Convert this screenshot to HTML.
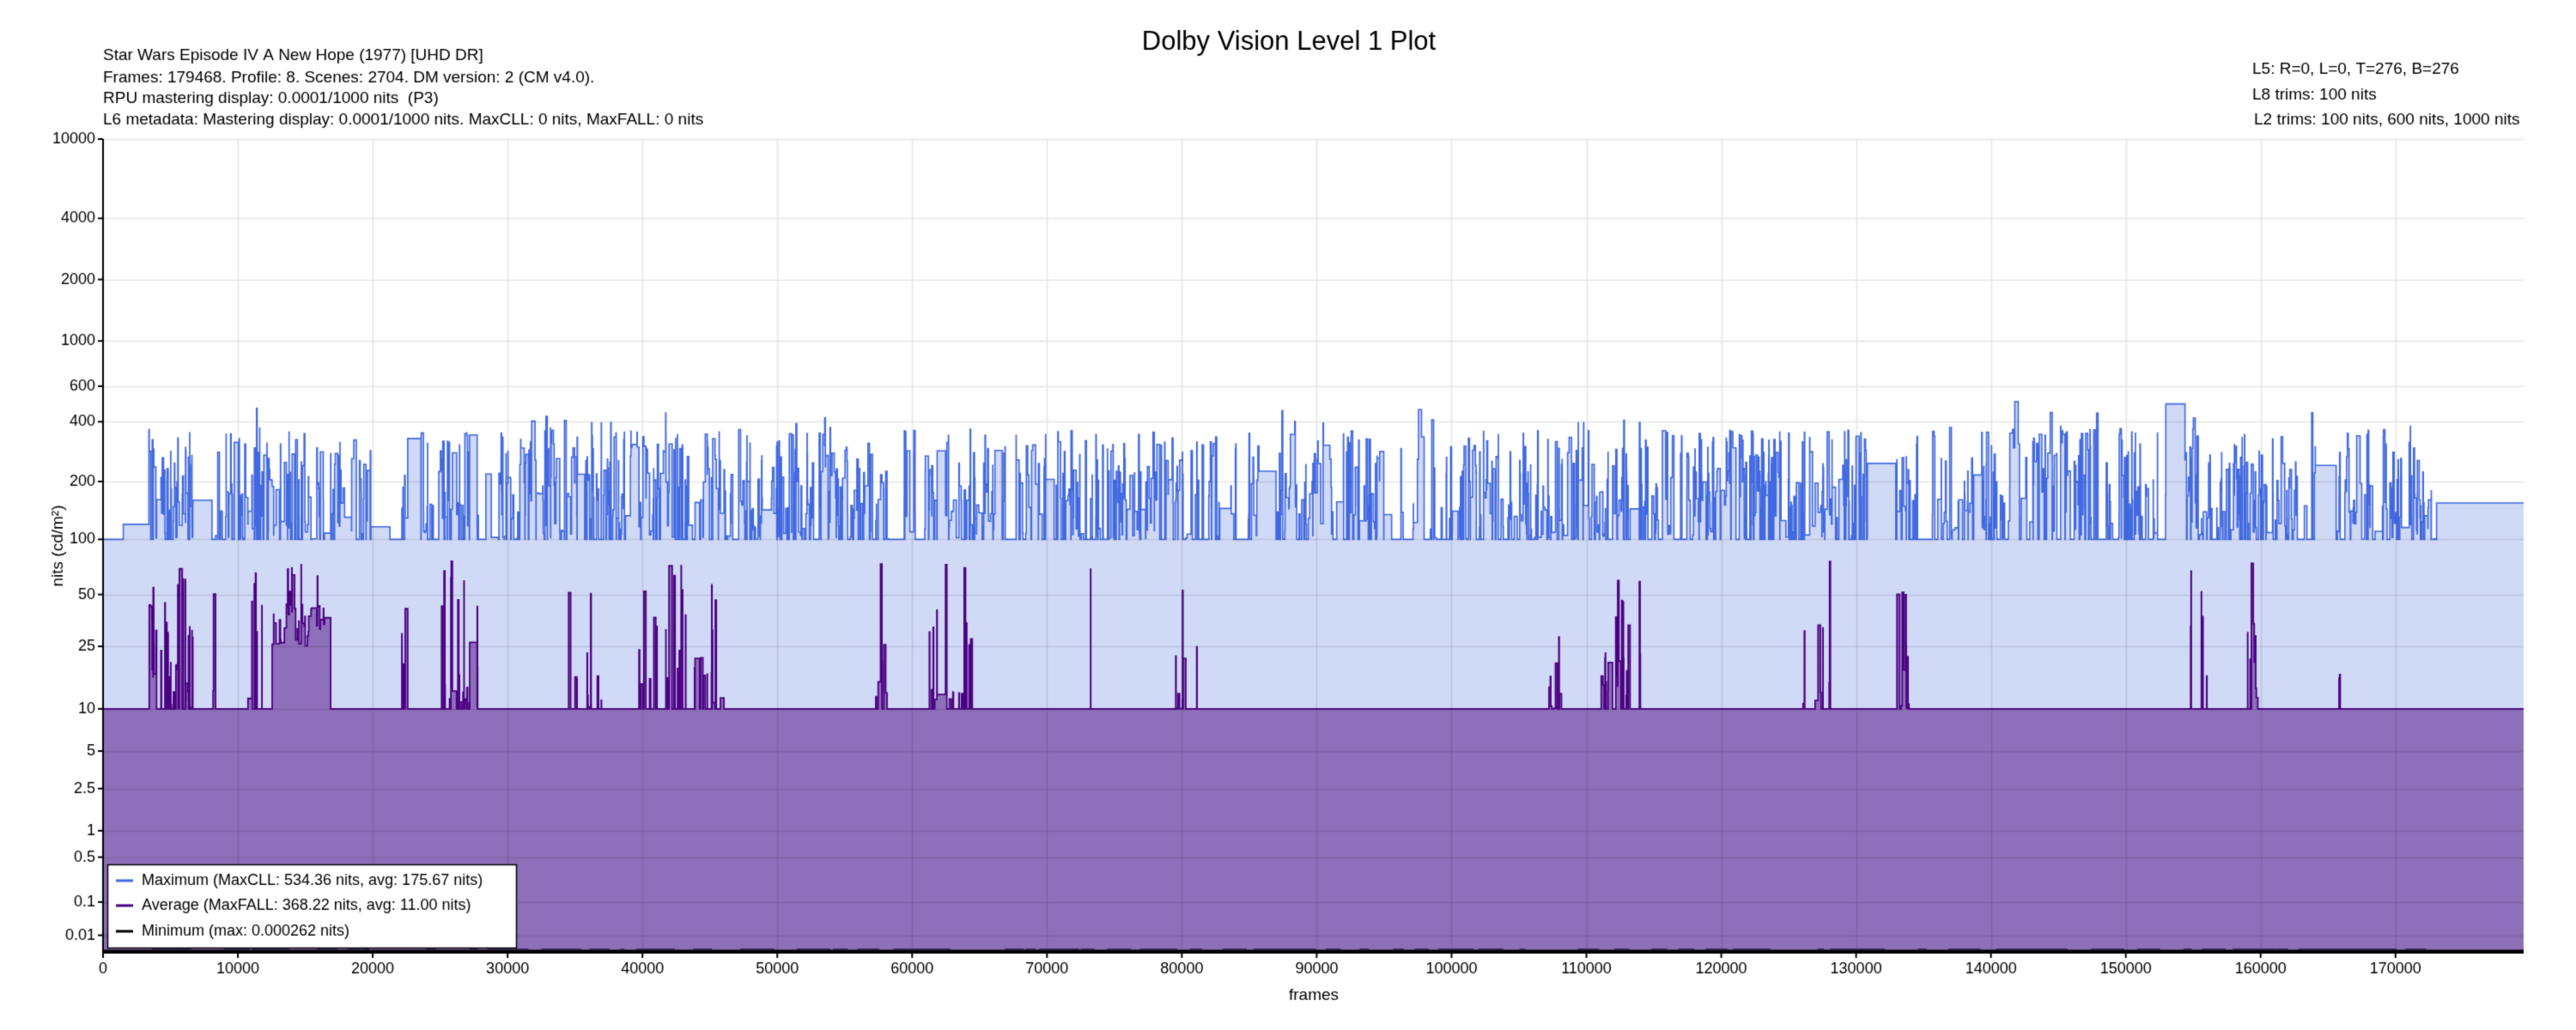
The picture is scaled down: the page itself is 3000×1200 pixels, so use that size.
<!DOCTYPE html>
<html><head><meta charset="utf-8"><style>
html,body{margin:0;padding:0;background:#fff;width:3000px;height:1200px;overflow:hidden}
canvas{display:block}
</style></head><body>
<canvas id="c" width="3000" height="1200"></canvas>
<script>
const c=document.getElementById('c'),g=c.getContext('2d');
const L=120,R=2939,T=162,B=1110,NF=179500;
function X(f){return L+(f/NF)*(R-L);}
function pq(n){const m1=0.1593017578125,m2=78.84375,c1=0.8359375,c2=18.8515625,c3=18.6875;const y=Math.pow(Math.max(n,0)/10000,m1);return Math.pow((c1+c2*y)/(1+c3*y),m2);}
function Y(n){return B-pq(n)*(B-T);}
let s=12345;function rnd(){s=(s*1103515245+12345)&0x7fffffff;return s/0x7fffffff;}
g.fillStyle='#fff';g.fillRect(0,0,3000,1200);
const maxS=[],avgS=[];
const avgRegions=[[3000,7500,0.5],[8000,8200,.3],[10500,11800,.35],[12500,16500,.9],[22000,23500,.3],[25000,28000,.4],[34500,37000,.25],[38500,46000,.35],[56500,58500,.3],[61000,64500,.35],[73000,73300,.3],[79500,80500,.4],[81000,81300,.3],[107000,108000,.6],[111000,114000,.6],[126000,128500,.4],[132500,134000,.6],[136500,136700,.3],[152500,153000,.2],[154000,156000,.2],[159000,159800,.4],[162000,162500,.3],[165800,166000,.4]];
let f=0;
while(f<NF){
 let len;
 if(f<1500){len=1500;}else if(f<3400){len=3400-f;}else if(f>=173000){len=NF-f;}
 else{len=Math.max(8,Math.floor(-Math.log(rnd()+1e-9)*62));if(rnd()<0.04)len*=8;}
 let mv;
 if(f<1500)mv=100;else if(f<3400)mv=120;else if(f>=173000)mv=155;
 else{const r=rnd();mv=r<0.25?100:100*Math.pow(5.3,Math.pow(rnd(),1.15)*0.78+(rnd()<0.12?0.22*rnd():0));}
 let av=10;
 for(const [a,b,p] of avgRegions){if(f>=a&&f<b&&rnd()<p){av=10*Math.pow(8,Math.pow(rnd(),1.5));}}
 if(f>=12500&&f<16500&&av<25)av=25+rnd()*20;
 maxS.push([f,Math.min(mv,534)]);avgS.push([f,av]);
 f+=len;
}
function pathOf(ser){
 const p=new Path2D();p.moveTo(X(0),B);
 for(let i=0;i<ser.length;i++){const x0=X(ser[i][0]),x1=X(i+1<ser.length?ser[i+1][0]:NF),y=Y(ser[i][1]);p.lineTo(x0,y);p.lineTo(x1,y);}
 p.lineTo(X(NF),B);p.closePath();return p;
}
function area(ser,fill,stroke,lw){
 g.fillStyle=fill;g.fill(pathOf(ser));
 g.beginPath();
 for(let i=0;i<ser.length;i++){const x0=X(ser[i][0]),x1=X(i+1<ser.length?ser[i+1][0]:NF),y=Y(ser[i][1]);if(i==0)g.moveTo(x0,y);else g.lineTo(x0,y);g.lineTo(x1,y);}
 g.strokeStyle=stroke;g.lineWidth=lw;g.stroke();
}
const ticks=[10000,4000,2000,1000,600,400,200,100,50,25,10,5,2.5,1,0.5,0.1,0.01];
function grid(col){
 g.strokeStyle=col;g.lineWidth=1.5;
 for(const t of ticks){const y=Math.round(Y(t))+.5;g.beginPath();g.moveTo(L,y);g.lineTo(R,y);g.stroke();}
 for(let k=1;k<=17;k++){const x=Math.round(X(k*10000))+.5;g.beginPath();g.moveTo(x,T);g.lineTo(x,B);g.stroke();}
}
grid('#e6e6e6');
area(maxS,'#d0d9f5','#4169e1',1.6);
area(avgS,'#8e6fb9','#4b0082',1.8);
g.save();g.clip(pathOf(maxS));g.globalAlpha=0.1;grid('#000');g.restore();
g.strokeStyle='#000';g.lineWidth=3;g.beginPath();g.moveTo(L,B-2);g.lineTo(R,B-2);g.stroke();
g.strokeStyle='#3a2a55';g.lineWidth=2;
for(let i=0;i<150;i++){const a=3500+rnd()*169000;g.beginPath();g.moveTo(X(a),B-4);g.lineTo(X(a+300+rnd()*1500),B-4);g.stroke();}
g.strokeStyle='#000';g.lineWidth=2;
g.beginPath();g.moveTo(L,T);g.lineTo(L,B);g.lineTo(R,B);g.stroke();
g.fillStyle='#000';g.font='18px "Liberation Sans", sans-serif';
g.textAlign='right';g.textBaseline='middle';
for(const t of ticks){const y=Y(t);g.beginPath();g.moveTo(L-6,y);g.lineTo(L,y);g.stroke();g.fillText(String(t),L-9,y);}
g.textAlign='center';g.textBaseline='top';
for(let k=0;k<=17;k++){const x=X(k*10000);g.beginPath();g.moveTo(x,B);g.lineTo(x,B+6);g.stroke();g.fillText(String(k*10000),x,B+10);}
g.font='19px "Liberation Sans", sans-serif';
g.fillText('frames',1530,1150);
g.save();g.translate(68,636);g.rotate(-Math.PI/2);g.textBaseline='middle';g.fillText('nits (cd/m²)',0,0);g.restore();
g.font='31px "Liberation Sans", sans-serif';g.textBaseline='middle';g.fillText('Dolby Vision Level 1 Plot',1501,49);
g.textAlign='left';g.font='19px "Liberation Sans", sans-serif';
g.fillText('Star Wars Episode IV A New Hope (1977) [UHD DR]',120,65);
g.fillText('Frames: 179468. Profile: 8. Scenes: 2704. DM version: 2 (CM v4.0).',120,91);
g.fillText('RPU mastering display: 0.0001/1000 nits  (P3)',120,115);
g.fillText('L6 metadata: Mastering display: 0.0001/1000 nits. MaxCLL: 0 nits, MaxFALL: 0 nits',120,140);
g.fillText('L5: R=0, L=0, T=276, B=276',2623,81);
g.fillText('L8 trims: 100 nits',2623,111);
g.fillText('L2 trims: 100 nits, 600 nits, 1000 nits',2625,140);
g.fillStyle='#fff';g.fillRect(125,1007,477,98);g.strokeStyle='#000';g.lineWidth=1.5;g.strokeRect(125.5,1007.5,476,97);
const lg=[['#4169e1','Maximum (MaxCLL: 534.36 nits, avg: 175.67 nits)',1026],['#4b0082','Average (MaxFALL: 368.22 nits, avg: 11.00 nits)',1055],['#000','Minimum (max: 0.000262 nits)',1085]];
g.font='18px "Liberation Sans", sans-serif';
for(const [col,t,y] of lg){g.strokeStyle=col;g.lineWidth=3;g.beginPath();g.moveTo(135,y);g.lineTo(155,y);g.stroke();g.fillStyle='#000';g.fillText(t,165,y);}
</script>
</body></html>
